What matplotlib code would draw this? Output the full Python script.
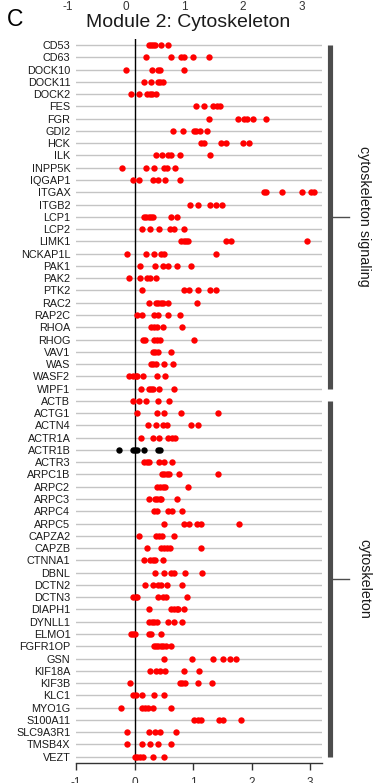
import matplotlib
matplotlib.use("Agg")
import matplotlib.pyplot as plt
from matplotlib.transforms import blended_transform_factory

plt.rcParams['font.family'] = ['Liberation Sans', 'DejaVu Sans']

genes = ["CD53", "CD63", "DOCK10", "DOCK11", "DOCK2", "FES", "FGR", "GDI2", "HCK", "ILK",
         "INPP5K", "IQGAP1", "ITGAX", "ITGB2", "LCP1", "LCP2", "LIMK1", "NCKAP1L", "PAK1", "PAK2",
         "PTK2", "RAC2", "RAP2C", "RHOA", "RHOG", "VAV1", "WAS", "WASF2", "WIPF1",
         "ACTB", "ACTG1", "ACTN4", "ACTR1A", "ACTR1B", "ACTR3", "ARPC1B", "ARPC2", "ARPC3", "ARPC4",
         "ARPC5", "CAPZA2", "CAPZB", "CTNNA1", "DBNL", "DCTN2", "DCTN3", "DIAPH1", "DYNLL1", "ELMO1",
         "FGFR1OP", "GSN", "KIF18A", "KIF3B", "KLC1", "MYO1G", "S100A11", "SLC9A3R1", "TMSB4X", "VEZT"]

values = [
    [0.24, 0.28, 0.31, 0.35, 0.45, 0.57],          # CD53
    [0.19, 0.62, 0.79, 0.85, 1.0, 1.28],           # CD63
    [-0.15, 0.30, 0.40, 0.44, 0.85],               # DOCK10
    [0.17, 0.29, 0.40, 0.44, 0.48],                # DOCK11
    [-0.06, 0.08, 0.21, 0.26, 0.30, 0.36],         # DOCK2
    [1.05, 1.18, 1.35, 1.41, 1.46],                # FES
    [1.28, 1.77, 1.87, 1.92, 2.02, 2.25],          # FGR
    [0.65, 0.83, 1.01, 1.05, 1.12, 1.24],          # GDI2
    [1.14, 1.19, 1.48, 1.56, 1.85, 1.95],          # HCK
    [0.37, 0.47, 0.57, 0.63, 0.78, 1.29],          # ILK
    [-0.21, 0.19, 0.34, 0.50, 0.55, 0.70],         # INPP5K
    [-0.03, 0.08, 0.31, 0.41, 0.52, 0.78],         # IQGAP1
    [2.21, 2.24, 2.52, 2.86, 3.02, 3.07],          # ITGAX
    [0.95, 1.09, 1.29, 1.39, 1.49],                # ITGB2
    [0.16, 0.20, 0.24, 0.28, 0.32, 0.63, 0.72],    # LCP1
    [0.13, 0.27, 0.42, 0.60, 0.67, 0.85],          # LCP2
    [0.80, 0.84, 0.88, 0.91, 1.56, 1.65, 2.95],    # LIMK1
    [-0.13, 0.20, 0.34, 0.45, 0.51, 1.40],         # NCKAP1L
    [0.10, 0.35, 0.48, 0.57, 0.73, 0.97],          # PAK1
    [-0.09, 0.09, 0.21, 0.26, 0.37],               # PAK2
    [0.13, 0.84, 0.94, 1.08, 1.29, 1.39],          # PTK2
    [0.24, 0.37, 0.41, 0.45, 0.48, 0.57, 1.07],    # RAC2
    [0.05, 0.13, 0.34, 0.41, 0.58, 0.77],          # RAP2C
    [0.29, 0.34, 0.38, 0.48, 0.81],                # RHOA
    [0.14, 0.18, 0.34, 0.39, 0.44, 1.01],          # RHOG
    [0.31, 0.35, 0.40, 0.62],                      # VAV1
    [0.28, 0.32, 0.37, 0.50, 0.66],                # WAS
    [-0.10, -0.03, 0.03, 0.05, 0.15, 0.38, 0.52],  # WASF2
    [0.11, 0.24, 0.28, 0.32, 0.42, 0.67],          # WIPF1
    [-0.03, 0.07, 0.19, 0.41, 0.59],               # ACTB
    [0.04, 0.38, 0.51, 0.80, 1.42],                # ACTG1
    [0.23, 0.36, 0.49, 0.55, 0.97, 1.08],          # ACTN4
    [0.11, 0.32, 0.42, 0.58, 0.64, 0.70],          # ACTR1A
    [-0.26, -0.02, 0.01, 0.05, 0.17, 0.41, 0.44],  # ACTR1B
    [0.17, 0.21, 0.24, 0.42, 0.51, 0.64],          # ACTR3
    [0.47, 0.51, 0.55, 0.59, 0.76, 1.42],          # ARPC1B
    [0.38, 0.44, 0.48, 0.52, 0.91],                # ARPC2
    [0.25, 0.35, 0.39, 0.43, 0.46, 0.73],          # ARPC3
    [0.34, 0.38, 0.57, 0.64, 0.82],                # ARPC4
    [0.51, 0.85, 0.94, 1.06, 1.13, 1.79],          # ARPC5
    [0.07, 0.37, 0.42, 0.47, 0.67],                # CAPZA2
    [0.21, 0.46, 0.51, 0.56, 0.61, 1.13],          # CAPZB
    [0.16, 0.27, 0.31, 0.35, 0.48],                # CTNNA1
    [0.35, 0.51, 0.63, 0.67, 0.86, 1.15],          # DBNL
    [0.18, 0.32, 0.40, 0.45, 0.55, 0.81],          # DCTN2
    [-0.03, 0.02, 0.05, 0.41, 0.48, 0.53, 0.89],   # DCTN3
    [0.24, 0.62, 0.67, 0.72, 0.74, 0.85],          # DIAPH1
    [0.25, 0.30, 0.34, 0.38, 0.58, 0.67, 0.82],    # DYNLL1
    [-0.06, -0.02, 0.01, 0.24, 0.29, 0.46],        # ELMO1
    [0.33, 0.37, 0.41, 0.45, 0.49, 0.54, 0.63],    # FGFR1OP
    [0.51, 0.98, 1.35, 1.52, 1.64, 1.74],          # GSN
    [0.27, 0.37, 0.44, 0.52, 0.84, 1.10],          # KIF18A
    [-0.07, 0.78, 0.82, 0.86, 1.09, 1.32],         # KIF3B
    [-0.02, 0.02, 0.13, 0.34, 0.51],               # KLC1
    [-0.23, 0.13, 0.18, 0.23, 0.31, 0.62],         # MYO1G
    [1.02, 1.08, 1.14, 1.45, 1.52, 1.82],          # S100A11
    [-0.13, 0.25, 0.35, 0.44, 0.71],               # SLC9A3R1
    [-0.13, 0.13, 0.27, 0.41, 0.63],               # TMSB4X
    [0.01, 0.05, 0.10, 0.14, 0.32, 0.51],          # VEZT
]

highlight_black = ["ACTR1B"]
groups = ["cytoskeleton signaling", "cytoskeleton"]
group_first = ["CD53", "ACTB"]
group_last = ["WIPF1", "VEZT"]
xticks = [-1, 0, 1, 2, 3]

W, H = 377, 783
fig = plt.figure(figsize=(W / 100, H / 100), dpi=100)
ax = fig.add_axes([76 / W, (H - 762.8) / H, 245.7 / W, (762.8 - 38.9) / H])

n = len(genes)
for i in range(n):
    ax.axhline(i, color='#c4c4c4', lw=1.0, zorder=1)
ax.axvline(0, color='black', lw=1.0, zorder=2)

for i, (g, vals) in enumerate(zip(genes, values)):
    col = 'black' if g in highlight_black else '#ff0000'
    ax.plot(vals, [i] * len(vals), 'o', color=col, ms=4.6, mec='none', zorder=3)

ax.set_xlim(-1, 3.2)
ax.set_ylim(n - 0.5, -0.5)
ax.set_yticks(range(n))
ax.set_yticklabels(genes, fontsize=7.8, color='#1a1a1a')
ax.tick_params(axis='y', length=0, pad=4)
ax.set_xticks(xticks)
ax.set_xticklabels([str(t) for t in xticks], fontsize=8.5, color='#333333')
ax.tick_params(axis='x', length=5, width=1, color='#333333', pad=5.5)
for s in ['left', 'right', 'top']:
    ax.spines[s].set_visible(False)
ax.spines['bottom'].set_color('#333333')
ax.spines['bottom'].set_linewidth(1)

# group brackets
tr = blended_transform_factory(ax.transAxes, ax.transData)
bar_x = (330.2 - 76) / 245.7
tick_x2 = (349 - 76) / 245.7
lab_x = (364 - 76) / 245.7
for a, b, name in zip(group_first, group_last, groups):
    y0, y1 = genes.index(a), genes.index(b)
    ax.plot([bar_x, bar_x], [y0, y1], color='#4d4d4d', lw=3.7, solid_capstyle='butt',
            transform=tr, clip_on=False)
    ym = (y0 + y1) / 2
    ax.plot([bar_x, tick_x2], [ym, ym], color='#4d4d4d', lw=1.0, transform=tr, clip_on=False)
    ax.text(lab_x, ym, name, rotation=270, ha='center', va='center', fontsize=10.3,
            color='#1a1a1a', transform=tr, clip_on=False)

fig.text(188 / W, 1 - 26.7 / H, "Module 2: Cytoskeleton", ha='center', va='baseline',
         fontsize=14, color='#1a1a1a')
fig.text(7 / W, 1 - 26 / H, "C", ha='left', va='baseline', fontsize=16.5, color='black')

# cropped tick labels of the panel above
for t in xticks:
    fig.text((126 + 58.5 * t) / W, 1 - 10 / H, str(t), ha='center', va='baseline',
             fontsize=8.5, color='#333333')

fig.savefig("out.png", dpi=100)
